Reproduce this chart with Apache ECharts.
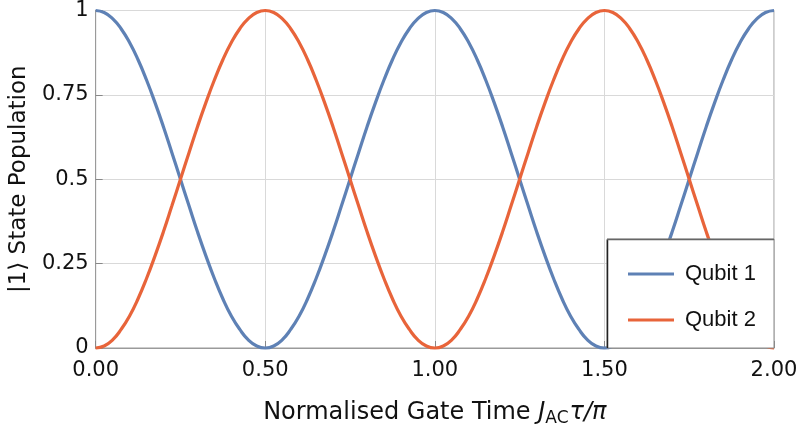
<!DOCTYPE html>
<html>
<head>
<meta charset="utf-8">
<script src="https://cdn.jsdelivr.net/npm/echarts@6/dist/echarts.min.js"></script>
<style>html,body{margin:0;padding:0;background:#fff;}#c{width:805px;height:435px;}</style>
</head>
<body>
<div id="c"></div>
<script>
// Sample times (normalised gate time J_AC*tau/pi)
var times = [0, 0.025, 0.05, 0.075, 0.1, 0.125, 0.15, 0.175, 0.2, 0.225, 0.25, 0.275, 0.3, 0.325, 0.35, 0.375, 0.4, 0.425, 0.45, 0.475, 0.5,
  0.525, 0.55, 0.575, 0.6, 0.625, 0.65, 0.675, 0.7, 0.725, 0.75, 0.775, 0.8, 0.825, 0.85, 0.875, 0.9, 0.925, 0.95, 0.975, 1.0,
  1.025, 1.05, 1.075, 1.1, 1.125, 1.15, 1.175, 1.2, 1.225, 1.25, 1.275, 1.3, 1.325, 1.35, 1.375, 1.4, 1.425, 1.45, 1.475, 1.5,
  1.525, 1.55, 1.575, 1.6, 1.625, 1.65, 1.675, 1.7, 1.725, 1.75, 1.775, 1.8, 1.825, 1.85, 1.875, 1.9, 1.925, 1.95, 1.975, 2.0];

var qubit1 = [1, 0.994, 0.976, 0.946, 0.905, 0.854, 0.794, 0.727, 0.655, 0.578, 0.5, 0.422, 0.345, 0.273, 0.206, 0.146, 0.095, 0.055, 0.024, 0.006, 0,
  0.006, 0.024, 0.055, 0.095, 0.146, 0.206, 0.273, 0.345, 0.422, 0.5, 0.578, 0.655, 0.727, 0.794, 0.854, 0.905, 0.946, 0.976, 0.994, 1,
  0.994, 0.976, 0.946, 0.905, 0.854, 0.794, 0.727, 0.655, 0.578, 0.5, 0.422, 0.345, 0.273, 0.206, 0.146, 0.095, 0.055, 0.024, 0.006, 0,
  0.006, 0.024, 0.055, 0.095, 0.146, 0.206, 0.273, 0.345, 0.422, 0.5, 0.578, 0.655, 0.727, 0.794, 0.854, 0.905, 0.946, 0.976, 0.994, 1];

var qubit2 = [0, 0.006, 0.024, 0.055, 0.095, 0.146, 0.206, 0.273, 0.345, 0.422, 0.5, 0.578, 0.655, 0.727, 0.794, 0.854, 0.905, 0.946, 0.976, 0.994, 1,
  0.994, 0.976, 0.946, 0.905, 0.854, 0.794, 0.727, 0.655, 0.578, 0.5, 0.422, 0.345, 0.273, 0.206, 0.146, 0.095, 0.055, 0.024, 0.006, 0,
  0.006, 0.024, 0.055, 0.095, 0.146, 0.206, 0.273, 0.345, 0.422, 0.5, 0.578, 0.655, 0.727, 0.794, 0.854, 0.905, 0.946, 0.976, 0.994, 1,
  0.994, 0.976, 0.946, 0.905, 0.854, 0.794, 0.727, 0.655, 0.578, 0.5, 0.422, 0.345, 0.273, 0.206, 0.146, 0.095, 0.055, 0.024, 0.006, 0];

var seriesNames = ['Qubit 1', 'Qubit 2'];
var xTicks = [0, 0.5, 1.0, 1.5, 2.0];
var yTicks = [0, 0.25, 0.5, 0.75, 1];

function pairs(ys) {
  return times.map(function (t, i) { return [t, ys[i]]; });
}

var chart = echarts.init(document.getElementById('c'), null, {renderer: 'canvas'});
var tickFont = 'DejaVu Sans';
chart.setOption({
  animation: false,
  backgroundColor: '#fff',
  grid: {left: 95, right: 31, top: 9, bottom: 87, show: true, borderColor: '#9a9a9a', borderWidth: 1},
  xAxis: {
    type: 'value', min: 0, max: 2, interval: 0.5,
    axisLine: {show: true, lineStyle: {color: '#9a9a9a', width: 1}},
    axisTick: {show: true, inside: true, length: 7, lineStyle: {color: '#888'}},
    splitLine: {show: true, lineStyle: {color: '#d9d9d9', width: 1}},
    axisLabel: {margin: 12, fontFamily: tickFont, fontSize: 21, color: '#111',
      formatter: function (v) { return v.toFixed(2); }},
    name: 'Normalised Gate Time {i|J}{sub|AC}{i|τ/π}',
    nameLocation: 'middle', nameGap: 50,
    nameTextStyle: {fontFamily: tickFont, fontSize: 24, color: '#111',
      rich: {
        i: {fontFamily: tickFont, fontStyle: 'italic', fontSize: 24, color: '#111'},
        sub: {fontFamily: tickFont, fontSize: 17, color: '#111', padding: [12, 1, 0, 0]}
      }}
  },
  yAxis: {
    type: 'value', min: 0, max: 1, interval: 0.25,
    axisLine: {show: true, lineStyle: {color: '#9a9a9a', width: 1}},
    axisTick: {show: true, inside: true, length: 7, lineStyle: {color: '#888'}},
    splitLine: {show: true, lineStyle: {color: '#d9d9d9', width: 1}},
    axisLabel: {margin: 7, fontFamily: tickFont, fontSize: 21, color: '#111',
      formatter: function (v) { return String(v); }},
    name: '|1⟩ State Population',
    nameLocation: 'middle', nameGap: 64, nameRotate: 90,
    nameTextStyle: {fontFamily: tickFont, fontSize: 23, color: '#111'}
  },
  legend: {
    show: true, orient: 'vertical', left: 607, top: 239,
    padding: [24, 20, 17, 21], itemGap: 24,
    itemWidth: 46, itemHeight: 3, icon: 'rect',
    textStyle: {fontFamily: 'Liberation Sans', fontSize: 22, color: '#111', padding: [0, 0, 0, 6]},
    data: seriesNames, z: 20
  },
  graphic: [
    {type: 'rect', shape: {x: 607, y: 239, width: 167, height: 109}, style: {fill: '#fff', stroke: '#8a8a8a', lineWidth: 1}, z: 10},
    {type: 'line', shape: {x1: 607.5, y1: 240, x2: 607.5, y2: 348}, style: {stroke: '#222', lineWidth: 1.5}, z: 11},
    {type: 'line', shape: {x1: 607, y1: 239.5, x2: 774, y2: 239.5}, style: {stroke: '#666', lineWidth: 1.5}, z: 11}
  ],
  series: [
    {name: seriesNames[0], type: 'line', data: pairs(qubit1), showSymbol: false, smooth: true, clip: false,
      lineStyle: {color: '#5E81B5', width: 3.2}, itemStyle: {color: '#5E81B5'}, z: 3},
    {name: seriesNames[1], type: 'line', data: pairs(qubit2), showSymbol: false, smooth: true, clip: false,
      lineStyle: {color: '#E8643A', width: 3.2}, itemStyle: {color: '#E8643A'}, z: 4}
  ]
});
</script>
</body>
</html>
